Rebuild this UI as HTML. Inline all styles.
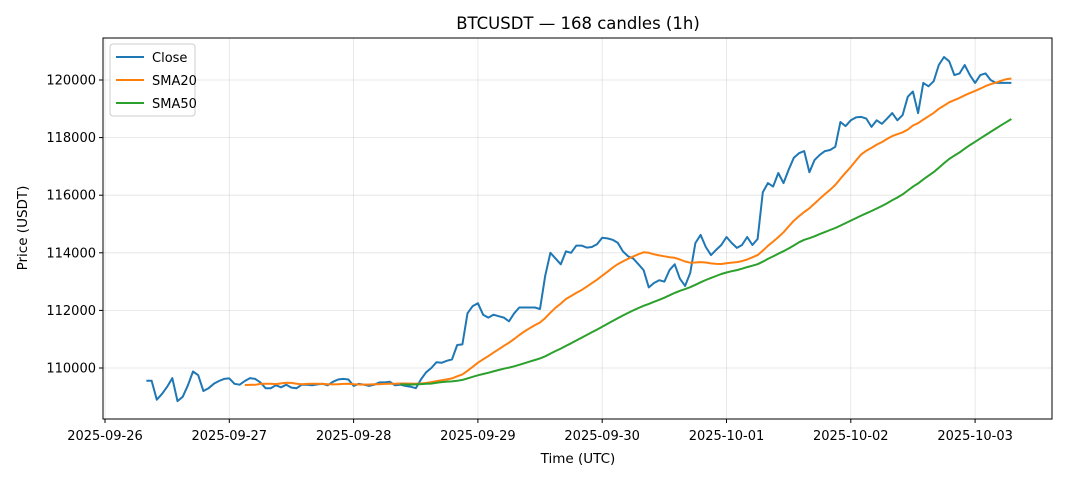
<!DOCTYPE html>
<html><head><meta charset="utf-8"><style>
body{margin:0;background:#fff;font-family:"Liberation Sans","DejaVu Sans",sans-serif;}
svg text{font-family:"DejaVu Sans","Liberation Sans",sans-serif;fill:#000;}
</style></head><body>
<svg id="chart" width="1068" height="481" xmlns="http://www.w3.org/2000/svg">
<rect width="1068" height="481" fill="#fff"/>
<text x="578" y="29" font-size="16.5" text-anchor="middle">BTCUSDT — 168 candles (1h)</text>
<g id="grid"></g>
<g id="series"></g>
<rect x="103" y="38" width="949" height="381" fill="none" stroke="#000" stroke-width="1"/>
<g id="axes"></g>
<text x="578" y="463" font-size="13.5" text-anchor="middle">Time (UTC)</text>
<text transform="translate(27,228) rotate(-90)" font-size="13.5" text-anchor="middle">Price (USDT)</text>
<g>
<rect x="110" y="44" width="85" height="72" rx="3" fill="#fff" fill-opacity="0.8" stroke="#ccc"/>
<line x1="116" y1="57" x2="144" y2="57" stroke="#1f77b4" stroke-width="2"/>
<text x="152" y="62" font-size="13">Close</text>
<line x1="116" y1="80" x2="144" y2="80" stroke="#ff7f0e" stroke-width="2"/>
<text x="152" y="85" font-size="13">SMA20</text>
<line x1="116" y1="103" x2="144" y2="103" stroke="#2ca02c" stroke-width="2"/>
<text x="152" y="108" font-size="13">SMA50</text>
</g>
</svg>
<script>
const closes=[109560,109560,108900,109100,109350,109650,108850,109000,109400,109880,109750,109200,109300,109450,109550,109620,
109640,109450,109420,109550,109650,109620,109500,109300,109300,109400,109330,109420,109320,109300,109420,109420,109400,109430,109450,109400,109520,109600,109620,109600,
109380,109450,109420,109380,109420,109500,109500,109520,109400,109420,109380,109350,109300,109600,109850,110000,110200,110180,110250,110300,110800,110820,111900,112150,
112250,111850,111750,111850,111800,111750,111620,111900,112100,112100,112100,112100,112050,113200,114000,113800,113600,114050,114000,114250,114250,114180,114200,114300,
114520,114500,114450,114350,114050,113880,113800,113600,113400,112800,112950,113050,113000,113400,113600,113100,112850,113300,114340,114620,114200,113920,114100,114270,
114550,114340,114170,114270,114550,114270,114480,116100,116420,116300,116770,116420,116880,117300,117460,117530,116800,117220,117400,117530,117570,117680,
118540,118400,118600,118700,118720,118660,118370,118600,118480,118660,118850,118600,118780,119420,119600,118850,119900,119780,119960,120520,120800,120650,
120170,120230,120520,120170,119900,120170,120230,120000,119900,119900,119900,119900];
const yTicks=[110000,112000,114000,116000,118000,120000];
const xTickLabels=["2025-09-26","2025-09-27","2025-09-28","2025-09-29","2025-09-30","2025-10-01","2025-10-02","2025-10-03"];
const startHour=8;
const NS="http://www.w3.org/2000/svg";
const xDay=d=>105+124.3*d;
const xIdx=i=>xDay((startHour+i)/24);
const yV=v=>368-(v-110000)*0.0288;
function mk(tag,attrs,parent){const e=document.createElementNS(NS,tag);for(const k in attrs)e.setAttribute(k,attrs[k]);parent.appendChild(e);return e;}
const grid=document.getElementById('grid'),axes=document.getElementById('axes'),series=document.getElementById('series');
yTicks.forEach(v=>{const y=yV(v);
const g=mk('line',{x1:103,x2:1052,y1:y,y2:y,stroke:'#b0b0b0','stroke-opacity':0.35,'stroke-width':0.8},grid);


mk('line',{x1:99,x2:103,y1:y,y2:y,stroke:'#000'},axes);
const t=mk('text',{x:96,y:y+4.5,'font-size':13,'text-anchor':'end'},axes);t.textContent=v;

});
xTickLabels.forEach((s,d)=>{const x=xDay(d);
const g=mk('line',{x1:x,x2:x,y1:38,y2:419,stroke:'#b0b0b0','stroke-opacity':0.35,'stroke-width':0.8},grid);


mk('line',{x1:x,x2:x,y1:419,y2:423,stroke:'#000'},axes);
const t=mk('text',{x:x,y:440,'font-size':13,'text-anchor':'middle'},axes);t.textContent=s;

});
function sma(n){const out=[];for(let i=n-1;i<closes.length;i++){let s=0;for(let j=i-n+1;j<=i;j++)s+=closes[j];out.push([i,s/n]);}return out;}
function line(pts,color,name){const p=mk('polyline',{points:pts.map(([i,v])=>xIdx(i).toFixed(1)+','+yV(v).toFixed(1)).join(' '),fill:'none',stroke:color,'stroke-width':2,'stroke-linejoin':'round'},series);

}
line(closes.map((v,i)=>[i,v]),'#1f77b4','close-line');
line(sma(20),'#ff7f0e','sma20-line');
line(sma(50),'#2ca02c','sma50-line');
</script>
</body></html>
